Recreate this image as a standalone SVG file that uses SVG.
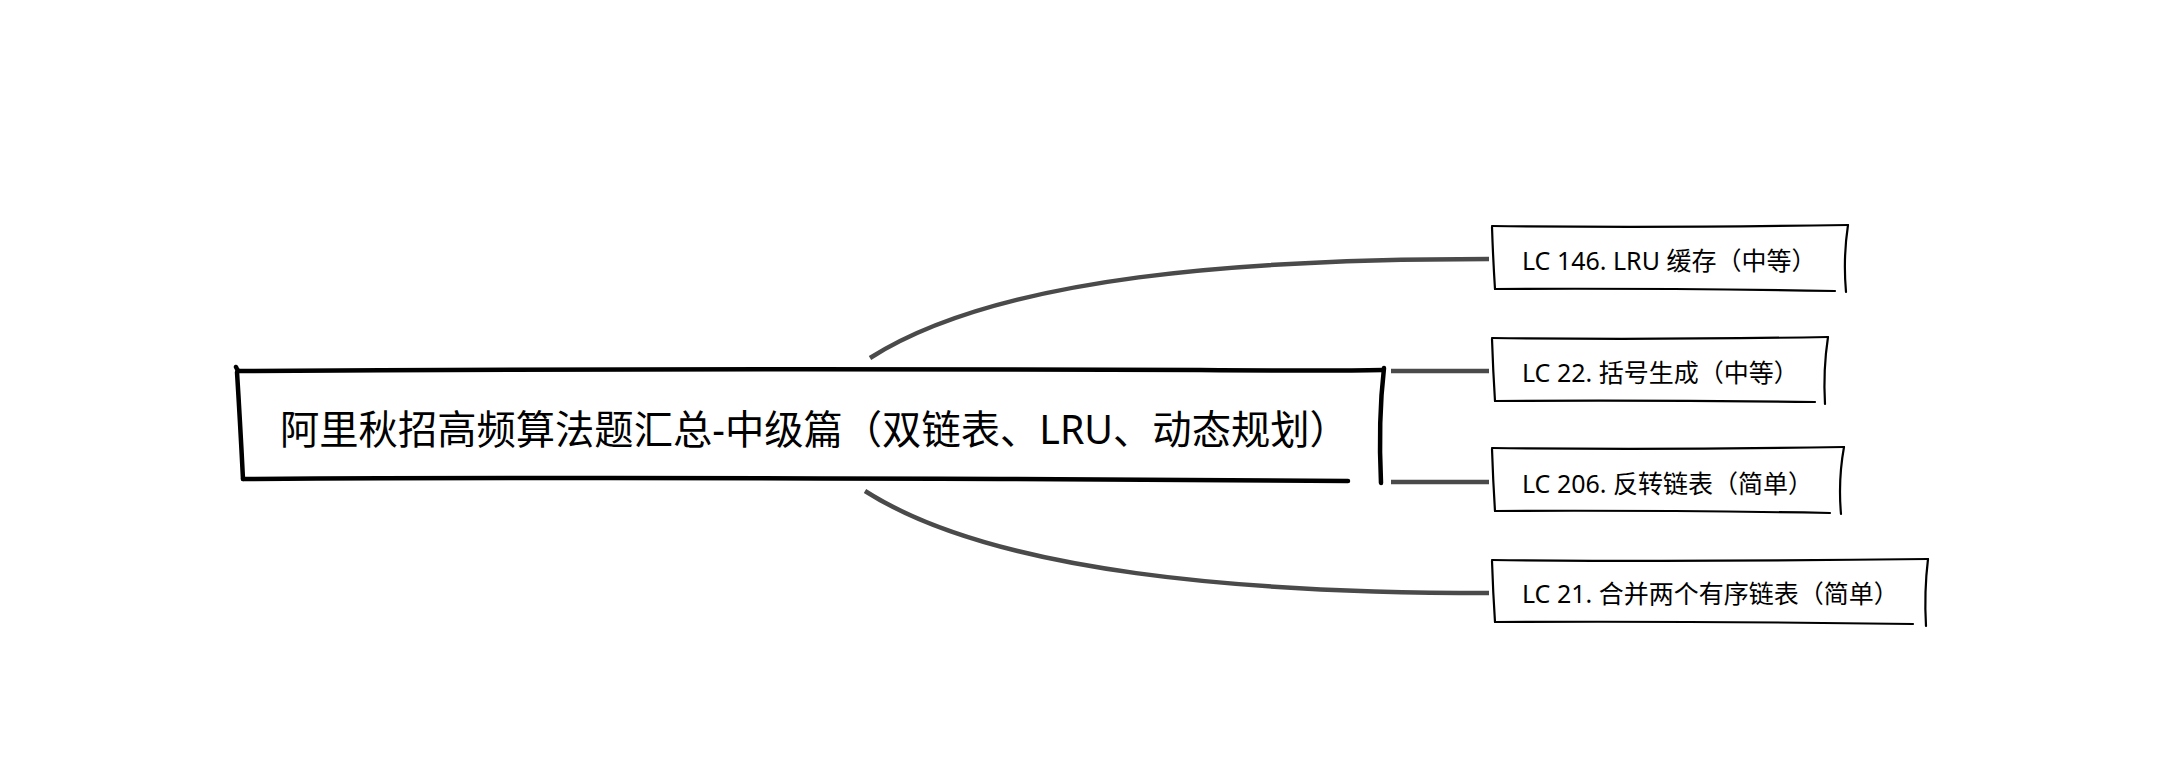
<svg xmlns="http://www.w3.org/2000/svg" width="2166" height="775" viewBox="0 0 2166 775">
<style>
.bg{fill:#ffffff}
.box{fill:#ffffff;stroke:none}
.edge-main{fill:none;stroke:#000;stroke-width:4.5;stroke-linecap:round;stroke-linejoin:round}
.edge-child{fill:none;stroke:#000;stroke-width:2.2;stroke-linecap:round;stroke-linejoin:round}
.conn{fill:none;stroke:#4a4a4a;stroke-width:4.5;stroke-linecap:butt}
.t-main{font-family:"Noto Sans","Noto Sans CJK SC",sans-serif;font-size:39.3px;fill:#000}
.t-child{font-family:"Noto Sans","Noto Sans CJK SC",sans-serif;font-size:25px;fill:#000}
</style>
<rect class="bg" x="0" y="0" width="2166" height="775"/>
<g id="connectors">
<path class="conn" d="M870,358 C1000,275 1250,259 1489,259"/>
<path class="conn" d="M1391,371 L1489,371"/>
<path class="conn" d="M1391,482 L1489,482"/>
<path class="conn" d="M865,491 C995,574 1250,593 1489,593"/>
</g>
<g id="node-root">
<rect class="box" x="238" y="371" width="1144" height="108"/>
<path class="edge-main" d="M236,367 Q237,370 239,371 Q700,368 1200,370 Q1330,371 1383,370"/>
<path class="edge-main" d="M1384,368 Q1378,420 1381,483"/>
<path class="edge-main" d="M243,479 Q600,477 1000,479 Q1200,480 1348,481"/>
<path class="edge-main" d="M237,372 Q240,420 243,479"/>
<text class="t-main" x="280" y="444">阿里秋招高频算法题汇总-中级篇（双链表、LRU、动态规划）</text>
</g>
<g id="node-lc146">
<rect class="box" x="1494" y="228" width="352" height="62"/>
<path class="edge-child" d="M1492,226 Q1660,228 1848,225"/>
<path class="edge-child" d="M1848,225 Q1843,258 1846,292"/>
<path class="edge-child" d="M1495,289 Q1650,288 1835,291"/>
<path class="edge-child" d="M1492,227 Q1493,258 1495,289"/>
<text class="t-child" x="1522" y="270">LC 146. LRU 缓存（中等）</text>
</g>
<g id="node-lc22">
<rect class="box" x="1494" y="339" width="332" height="62"/>
<path class="edge-child" d="M1492,338 Q1650,340 1828,337"/>
<path class="edge-child" d="M1828,337 Q1823,370 1825,404"/>
<path class="edge-child" d="M1495,401 Q1650,400 1815,402"/>
<path class="edge-child" d="M1492,339 Q1493,370 1495,401"/>
<text class="t-child" x="1522" y="382">LC 22. 括号生成（中等）</text>
</g>
<g id="node-lc206">
<rect class="box" x="1494" y="449" width="348" height="63"/>
<path class="edge-child" d="M1492,448 Q1660,450 1844,447"/>
<path class="edge-child" d="M1844,447 Q1838,480 1841,514"/>
<path class="edge-child" d="M1495,511 Q1650,510 1830,513"/>
<path class="edge-child" d="M1492,449 Q1493,480 1495,511"/>
<text class="t-child" x="1522" y="493">LC 206. 反转链表（简单）</text>
</g>
<g id="node-lc21">
<rect class="box" x="1494" y="561" width="432" height="62"/>
<path class="edge-child" d="M1492,560 Q1700,562 1928,559"/>
<path class="edge-child" d="M1928,559 Q1924,592 1926,626"/>
<path class="edge-child" d="M1495,622 Q1700,621 1913,624"/>
<path class="edge-child" d="M1492,561 Q1493,592 1495,622"/>
<text class="t-child" x="1522" y="603">LC 21. 合并两个有序链表（简单）</text>
</g>
</svg>
